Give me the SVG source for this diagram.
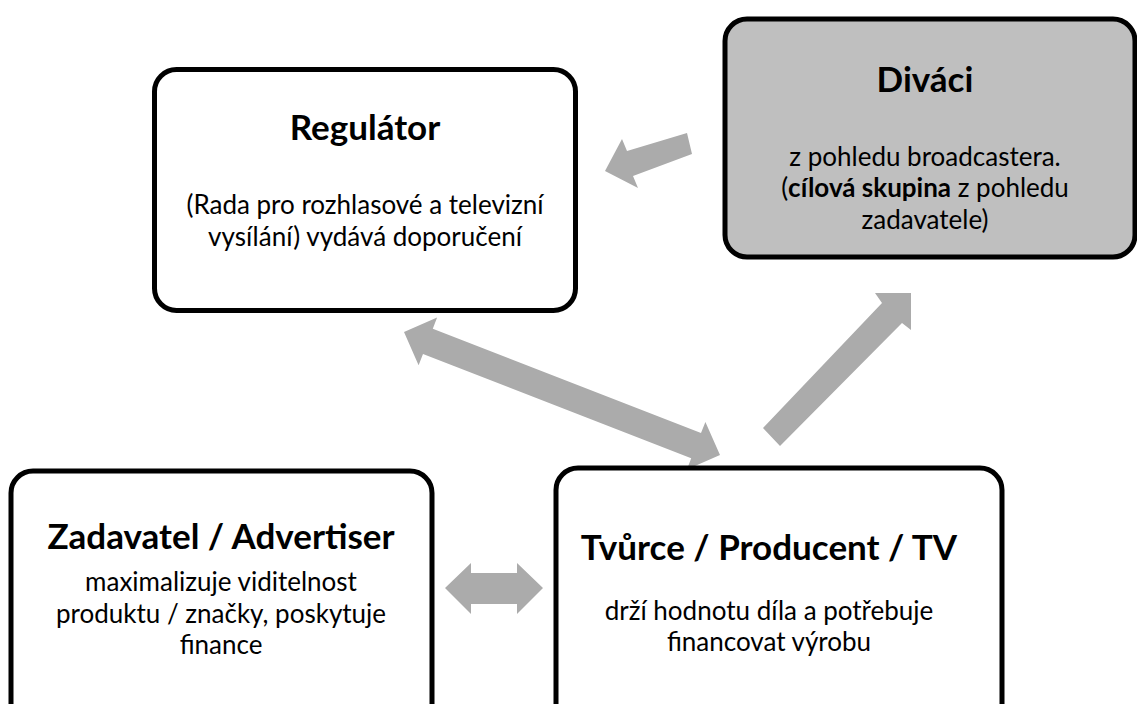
<svg xmlns="http://www.w3.org/2000/svg" width="1137" height="704" viewBox="0 0 1137 704">
<style>
.box{fill:#fff;stroke:#000;stroke-width:5}
.gray{fill:#bfbfbf}
.arr{fill:#ababab;stroke:none}
.t{font-family:Lato,"Liberation Sans",sans-serif;font-weight:bold;font-size:35px;fill:#000;text-anchor:middle}
.b{font-family:Lato,"Liberation Sans",sans-serif;font-size:26px;fill:#000;text-anchor:middle}
</style>
<rect width="1137" height="704" fill="#fff"/>
<g id="connectors">
<polygon class="arr" points="605,171 622,139 627,151 687,133 692,154 633,176 638,188"/>
<polygon class="arr" points="763,428 882,303 875,293 911,293 911,330 902,323 780,446"/>
<polygon class="arr" points="404,332 437.1,317.4 432.8,328.7 701,433.1 705.4,421.9 720,455 686.9,469.6 691.2,458.3 423,353.9 418.6,365.2"/>
<polygon class="arr" points="445,588 471,563 471,573 517,573 517,563 543,588 517,614 517,604 471,604 471,614"/>
</g>
<g id="regulator">
<rect class="box" x="154.5" y="69.5" width="421" height="241" rx="22"/>
<text class="t" x="365" y="140">Regulátor</text>
<text class="b" x="365" y="214">(Rada pro rozhlasové a televizní</text>
<text class="b" x="365" y="246">vysílání) vydává doporučení</text>
</g>
<g id="divaci">
<rect class="box gray" x="725" y="19" width="410" height="238" rx="22"/>
<text class="t" x="925" y="92">Diváci</text>
<text class="b" x="925" y="166">z pohledu broadcastera.</text>
<text class="b" x="925" y="197">(<tspan font-weight="bold">cílová skupina</tspan> z pohledu</text>
<text class="b" x="925" y="229">zadavatele)</text>
</g>
<g id="zadavatel">
<rect class="box" x="11" y="471" width="421" height="300" rx="22"/>
<text class="t" x="221" y="549">Zadavatel / Advertiser</text>
<text class="b" x="221" y="591">maximalizuje viditelnost</text>
<text class="b" x="221" y="623">produktu / značky, poskytuje</text>
<text class="b" x="221" y="654">finance</text>
</g>
<g id="tvurce">
<rect class="box" x="556" y="468" width="446" height="300" rx="22"/>
<text class="t" x="769" y="560">Tvůrce / Producent / TV</text>
<text class="b" x="769" y="620">drží hodnotu díla a potřebuje</text>
<text class="b" x="769" y="651">financovat výrobu</text>
</g>
</svg>
